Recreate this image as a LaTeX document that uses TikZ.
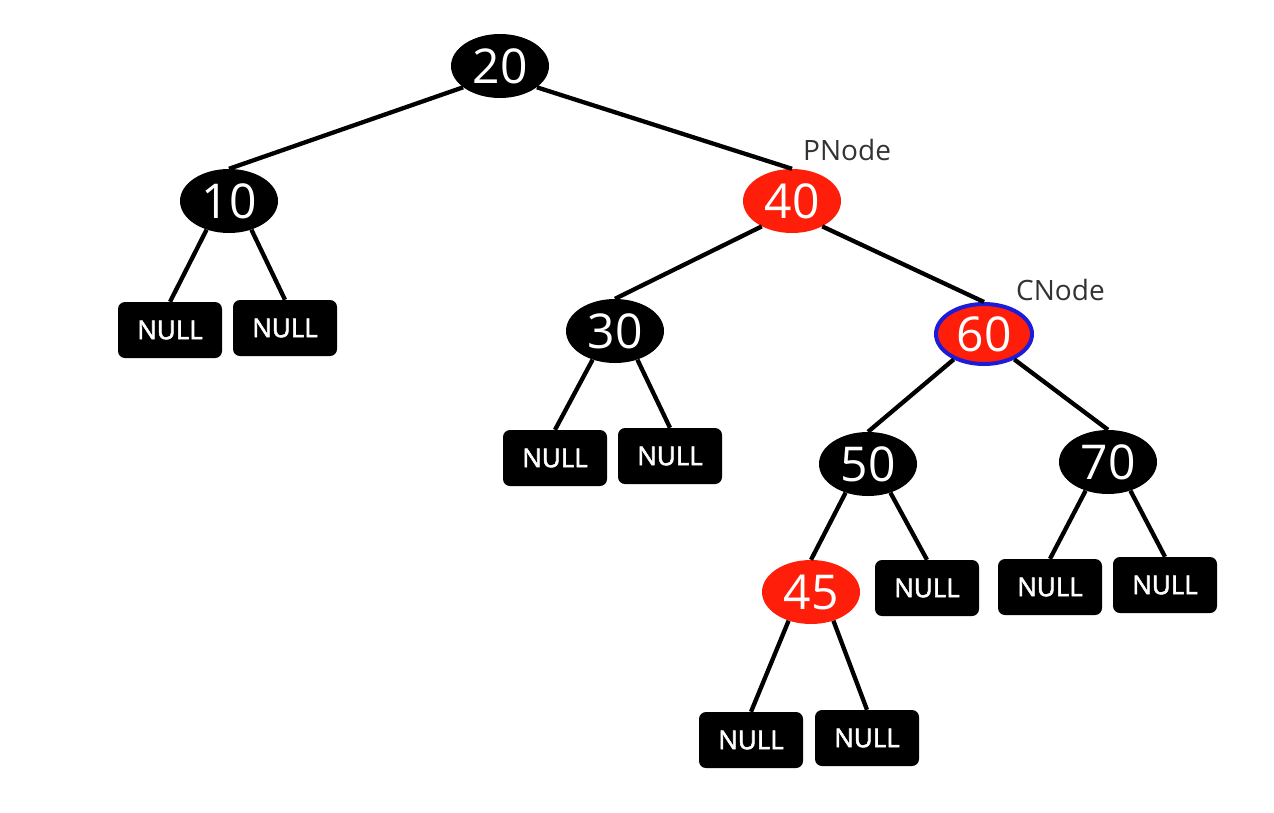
\documentclass[tikz,border=0pt]{standalone}
\usepackage{fontspec}
\setmainfont{Open Sans}
\newfontfamily\nulltextfont{Open Sans}[FakeBold=2.2]
\usetikzlibrary{shapes.geometric}
\definecolor{rbred}{HTML}{FF1E0A}
\definecolor{rbblue}{HTML}{1C1CD8}
\definecolor{lblgray}{HTML}{333333}
\tikzset{
  blk/.style={ellipse, fill=black, text=white, minimum width=98pt, minimum height=64pt, inner sep=0pt, font=\fontsize{48}{50}\selectfont},
  red/.style={blk, fill=rbred},
  nullbox/.style={rectangle, rounded corners=7pt, fill=black, text=white, minimum width=104pt, minimum height=56pt, inner sep=0pt, font=\nulltextfont\fontsize{26}{28}\selectfont},
  edge/.style={line width=4.3pt, black},
  lbl/.style={text=lblgray, font=\fontsize{28}{30}\selectfont, inner sep=0pt}
}
\begin{document}
\begin{tikzpicture}[x=1pt,y=-1pt]
\useasboundingbox (0,0) rectangle (1274,812);
\fill[white] (0,0) rectangle (1274,812);
\node[blk] (n20) at (500,66) {20};
\node[blk] (n10) at (229,201) {10};
\node[red] (n40) at (792,201) {40};
\node[blk] (n30) at (615,331) {30};
\node[red, draw=rbblue, line width=4pt, minimum width=96pt, minimum height=60pt] (n60) at (984,334) {60};
\node[blk] (n50) at (868,464) {50};
\node[blk] (n70) at (1108,462) {70};
\node[red] (n45) at (811,592) {45};
\node[nullbox] (a1) at (170,330) {NULL};
\node[nullbox] (a2) at (285,328) {NULL};
\node[nullbox] (b1) at (555,458) {NULL};
\node[nullbox] (b2) at (670,456) {NULL};
\node[nullbox] (c1) at (927,588) {NULL};
\node[nullbox] (d1) at (1050,587) {NULL};
\node[nullbox] (d2) at (1165,585) {NULL};
\node[nullbox] (e1) at (751,740) {NULL};
\node[nullbox] (e2) at (867,738) {NULL};
\draw[edge] (n20.-150) -- (n10.north);
\draw[edge] (n20.-30) -- (n40.north);
\draw[edge] (n10.-128) -- (a1.north);
\draw[edge] (n10.-52) -- (a2.north);
\draw[edge] (n40.-140) -- (n30.north);
\draw[edge] (n40.-40) -- (n60.north);
\draw[edge] (n30.-128) -- (b1.north);
\draw[edge] (n30.-52) -- (b2.north);
\draw[edge] (n60.-140) -- (n50.north);
\draw[edge] (n60.-40) -- (n70.north);
\draw[edge] (n50.-128) -- (n45.north);
\draw[edge] (n50.-52) -- (c1.north);
\draw[edge] (n70.-128) -- (d1.north);
\draw[edge] (n70.-52) -- (d2.north);
\draw[edge] (n45.-128) -- (e1.north);
\draw[edge] (n45.-52) -- (e2.north);
\node[lbl, anchor=base west] (pl) at (803,160) {PNode};
\node[lbl, anchor=base west] (cl) at (1016,300) {CNode};
\end{tikzpicture}
\end{document}
